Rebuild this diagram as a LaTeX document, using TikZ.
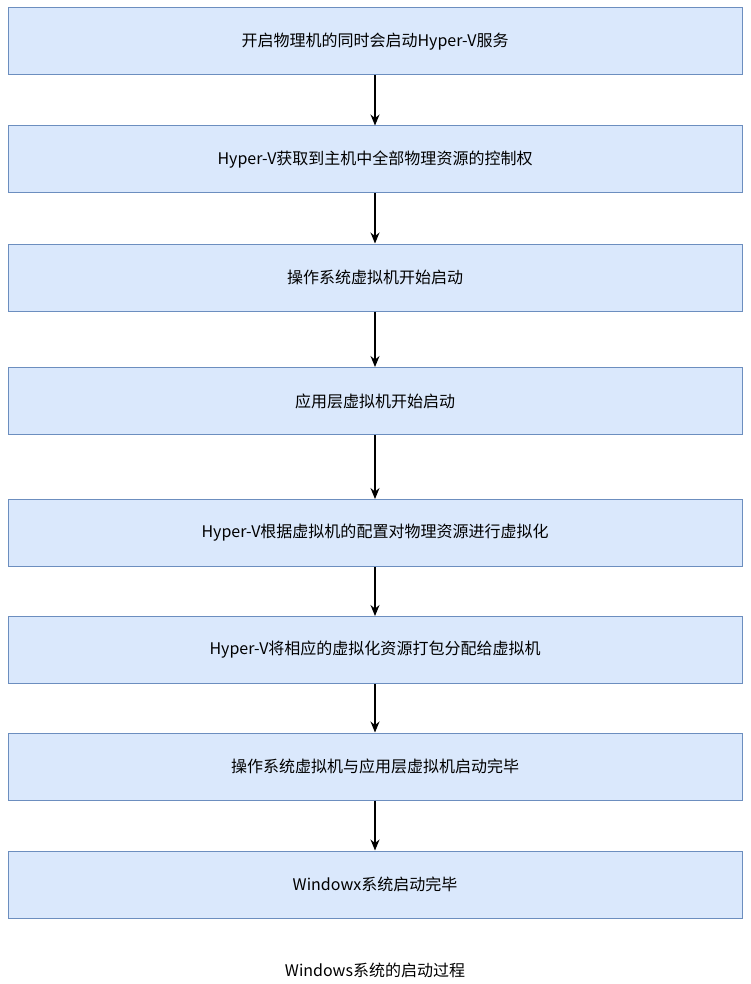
\documentclass[tikz,border=0pt]{standalone}
\usepackage{fontspec}
\setmainfont{Noto Sans CJK SC}
\usetikzlibrary{arrows.meta}
\definecolor{bfill}{HTML}{DAE8FC}
\definecolor{bdraw}{HTML}{6C8EBF}
\begin{document}
\begin{tikzpicture}[x=1pt,y=-1pt,
  box/.style={draw=bdraw,fill=bfill,line width=1pt,minimum width=734pt,minimum height=67pt,inner sep=0pt,font=\fontsize{16}{18}\selectfont},
  arr/.style={-{Stealth[length=11pt,width=9pt]},line width=1.3pt}]
\useasboundingbox (0,0) rectangle (750,984);
\node[box] (b1) at (375,41.5) {开启物理机的同时会启动Hyper-V服务};
\node[box] (b2) at (375,159.5) {Hyper-V获取到主机中全部物理资源的控制权};
\node[box] (b3) at (375,277.5) {操作系统虚拟机开始启动};
\node[box] (b4) at (375,401) {应用层虚拟机开始启动};
\node[box] (b5) at (375,533) {Hyper-V根据虚拟机的配置对物理资源进行虚拟化};
\node[box] (b6) at (375,650) {Hyper-V将相应的虚拟化资源打包分配给虚拟机};
\node[box] (b7) at (375,766.5) {操作系统虚拟机与应用层虚拟机启动完毕};
\node[box] (b8) at (375,884.5) {Windowx系统启动完毕};
\foreach \a/\b in {b1/b2,b2/b3,b3/b4,b4/b5,b5/b6,b6/b7,b7/b8}
  \draw[arr] (\a) -- (\b);
\node[font=\fontsize{16}{18}\selectfont] (cap) at (375,970) {Windows系统的启动过程};
\end{tikzpicture}
\end{document}
